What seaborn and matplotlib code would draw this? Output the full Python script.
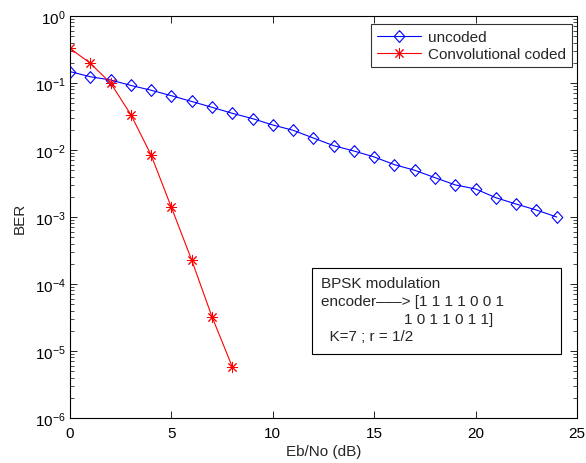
import numpy as np
import pandas as pd
import matplotlib
matplotlib.use("Agg")
import matplotlib.pyplot as plt
import seaborn as sns
from matplotlib.ticker import LogLocator, NullFormatter, FixedLocator
from matplotlib.patches import Rectangle

# ---- data ----
ebno_uncoded = list(range(0, 25))
ber_uncoded = [0.148, 0.124, 0.111, 0.092, 0.078, 0.0646, 0.053, 0.0434, 0.0353,
               0.0294, 0.0236, 0.0197, 0.0151, 0.0116, 0.00966, 0.00787, 0.00604,
               0.00498, 0.00386, 0.00301, 0.00262, 0.00194, 0.00156, 0.00127, 0.00100]
ebno_coded = list(range(0, 9))
ber_coded = [0.329, 0.197, 0.100, 0.0337, 0.0084, 0.00139, 0.000228, 3.25e-5, 5.83e-6]
x_ticks = [0, 5, 10, 15, 20, 25]
y_ticks = [1e-6, 1e-5, 1e-4, 1e-3, 1e-2, 1e-1, 1e0]
series_labels = ["uncoded", "Convolutional coded"]
note_lines = ["BPSK modulation",
              "encoder\u2013\u2013\u2013> [1 1 1 1 0 0 1",
              "1 0 1 1 0 1 1]",
              "  K=7 ; r = 1/2"]
note_x_px = [321, 321, 404, 321]

sns.set_style("ticks")
plt.rcParams['font.family'] = ['Liberation Sans', 'DejaVu Sans']
plt.rcParams['mathtext.fontset'] = 'custom'
plt.rcParams['mathtext.rm'] = 'Liberation Sans'
plt.rcParams['mathtext.it'] = 'Liberation Sans'

FS = 11
fig = plt.figure(figsize=(5.86, 4.64), dpi=100)
ax = fig.add_axes([70/586, 45/464, 507/586, 402/464])

df_u = pd.DataFrame({"x": ebno_uncoded, "y": ber_uncoded})
df_c = pd.DataFrame({"x": ebno_coded, "y": ber_coded})

diamond = [(0, 1), (0.9, 0), (0, -1), (-0.9, 0), (0, 1)]
sns.lineplot(data=df_u, x="x", y="y", ax=ax, color=(0, 0, 1), lw=0.8,
             marker=diamond, markersize=8.5, markerfacecolor="none",
             markeredgecolor=(0, 0, 1), markeredgewidth=0.8, label=series_labels[0])
sns.lineplot(data=df_c, x="x", y="y", ax=ax, color=(1, 0, 0), lw=0.8,
             marker=(8, 2, 0), markersize=8, markeredgecolor=(1, 0, 0),
             markeredgewidth=0.7, label=series_labels[1])

ax.set_yscale("log")
ax.set_xlim(0, 25)
ax.set_ylim(1e-6, 1)
ax.xaxis.set_major_locator(FixedLocator(x_ticks))
ax.set_yticks(y_ticks)
ax.yaxis.set_minor_locator(LogLocator(base=10, subs=np.arange(2, 10)))
ax.yaxis.set_minor_formatter(NullFormatter())
ax.tick_params(axis="both", which="both", direction="in", top=True, right=True,
               labelsize=FS, colors="black")
ax.tick_params(axis="both", which="major", length=5, width=0.6)
ax.tick_params(axis="y", which="minor", length=3, width=0.5)
ax.tick_params(axis="x", pad=6)
ax.tick_params(axis="y", pad=3)
for s in ax.spines.values():
    s.set_linewidth(0.8)
    s.set_color("black")

ax.set_xlabel("Eb/No (dB)", fontsize=FS, labelpad=3)
ax.set_ylabel("BER", fontsize=FS, labelpad=6)

leg = ax.legend(loc="upper right", bbox_to_anchor=((572-70)/507, (419-25)/402),
                fontsize=FS, frameon=True, fancybox=False,
                edgecolor="black", borderaxespad=0.0, handlelength=2.9,
                borderpad=0.4, labelspacing=0.2, handletextpad=0.45)
leg.get_frame().set_linewidth(0.8)

# annotation box
bx0, bx1 = (312-70)/507, (561-70)/507
by0, by1 = (419-355)/402, (419-269)/402
ax.add_patch(Rectangle((bx0, by0), bx1 - bx0, by1 - by0, transform=ax.transAxes,
                       facecolor="white", edgecolor="black", linewidth=0.8, zorder=5))
baselines = [288, 306, 324, 341]
for line, xp, yb in zip(note_lines, note_x_px, baselines):
    ax.text((xp-70)/507, (419-yb)/402, line, transform=ax.transAxes, fontsize=FS,
            va="baseline", ha="left", zorder=6)

fig.savefig("out.png", dpi=100)
